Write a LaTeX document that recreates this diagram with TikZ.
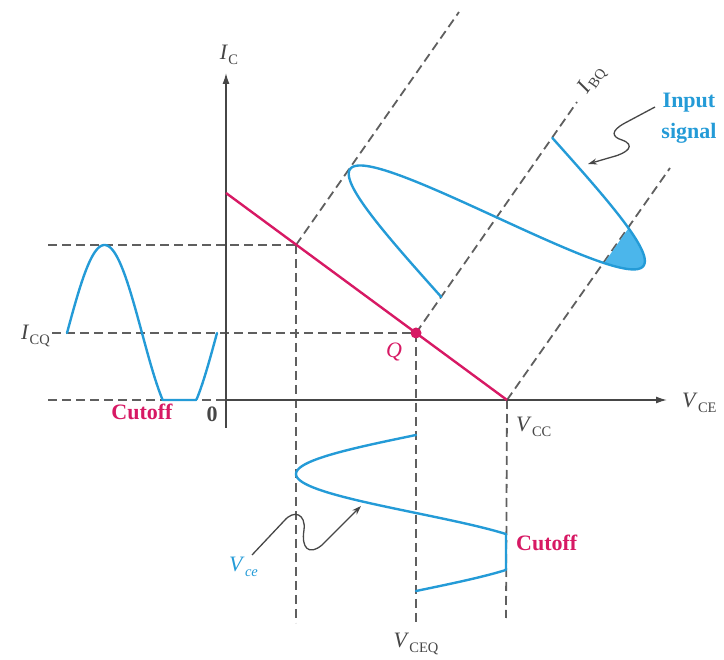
\documentclass[tikz,border=0pt]{standalone}
\usepackage{fontspec}
\setmainfont{Liberation Serif}
\usetikzlibrary{arrows.meta}
\definecolor{sigblue}{RGB}{36,155,215}
\definecolor{fillblue}{RGB}{75,182,235}
\definecolor{magn}{RGB}{215,25,100}
\definecolor{axgray}{RGB}{70,70,70}
\definecolor{dashgray}{RGB}{95,95,95}
\newcommand\lab[2]{\textit{#1}\kern0.3pt\raisebox{-0.4ex}{\fontsize{14.5}{14.5}\selectfont #2}}
\begin{document}
\begin{tikzpicture}[x=1pt,y=-1pt,
  declare function={sv(\u)=-148*sin((\u-44)*1.85567);
                    px(\u)=416+0.573*\u+0.8038*sv(\u);
                    py(\u)=333-0.8195*\u+0.595*sv(\u);},
  dashln/.style={dashgray,line width=1.8pt,dash pattern=on 9pt off 5pt},
  axisln/.style={axgray,line width=1.4pt},
  loadln/.style={magn,line width=2.4pt},
  sig/.style={sigblue,line width=2.4pt,line join=round,line cap=round},
  pointer/.style={axgray,line width=1.3pt,-{Stealth[length=9pt,width=6pt]}},
  lbl/.style={font=\fontsize{22}{24}\selectfont,text=axgray,inner sep=0pt},
  bluetxt/.style={font=\fontsize{22}{31}\selectfont\bfseries,text=sigblue,inner sep=0pt,align=center},
  redtxt/.style={font=\fontsize{22}{24}\selectfont\bfseries,text=magn,inner sep=0pt}]
\useasboundingbox (0,0) rectangle (724,660);
% key points
\coordinate (O) at (226,400);
\coordinate (ytop) at (226,73);
\coordinate (ybot) at (226,428);
\coordinate (xend) at (667,400);
\coordinate (Lt) at (226,193);
\coordinate (VCC) at (507,400);
\coordinate (Q) at (416,333);
\coordinate (P1) at (296,245);
% horizontal dashed lines
\coordinate (h1) at (48,245);
\coordinate (h2) at (52,333);
\coordinate (h3) at (48,400);
\draw[dashln] (h1) -- (P1);
\draw[dashln] (h2) -- (Q);
\draw[dashln] (h3) -- (O);
% vertical dashed lines
\coordinate (v1) at (296,623);
\coordinate (v2) at (416,625);
\coordinate (v3) at (506,618);
\draw[dashln] (P1) -- (v1);
\draw[dashln] (Q) -- (v2);
\draw[dashln] (VCC) -- (v3);
% diagonal dashed lines
\coordinate (d1) at (459,12);
\coordinate (d2) at (577,102);
\coordinate (d3) at (670,168);
\draw[dashln] (P1) -- (d1);
\draw[dashln] (Q) -- (d2);
\draw[dashln] (VCC) -- (d3);
% axes
\draw[axisln,-{Latex[length=11pt,width=7pt]}] (ybot) -- (ytop);
\draw[axisln,-{Latex[length=11pt,width=7pt]}] (O) -- (xend);
% load line
\draw[loadln] (Lt) -- (VCC);
% input signal
\fill[fillblue] plot[domain=168.2:210.8,samples=60,variable=\u] ({px(\u)},{py(\u)}) -- cycle;
\draw[sig] plot[domain=44:238,samples=160,variable=\u] ({px(\u)},{py(\u)});
% left collector current
\draw[sig] plot[domain=67:217,samples=150,variable=\x] (\x,{min(400,333-88*sin((\x-67)*2.4))});
% bottom vce
\draw[sig] plot[domain=0:360,samples=160,variable=\t] ({min(506,416-120*sin(\t))},{435+\t*0.43333});
% Q point
\node[circle,fill=magn,minimum size=11pt,inner sep=0pt] (Qdot) at (Q) {};
% labels
\node[lbl,anchor=base] (lIC) at (229,60) {\lab{I}{C}};
\node[lbl,anchor=base west] (lVCE) at (682,408) {\lab{V}{CE}};
\node[lbl,anchor=base west] (lVCC) at (516,432) {\lab{V}{CC}};
\node[lbl,anchor=base] (lVCEQ) at (416,648) {\lab{V}{CEQ}};
\node[lbl,anchor=base east] (lICQ) at (50,340) {\lab{I}{CQ}};
\node[lbl,font=\fontsize{22}{24}\selectfont\bfseries] (l0) at (212,414) {0};
\node[lbl,text=magn,anchor=base] (lQ) at (394,358) {\textit{Q}};
\node[lbl,rotate=55] (lIBQ) at (592,80) {\textit{I}\kern0.5pt\raisebox{-0.4ex}{\fontsize{14.5}{14.5}\selectfont BQ}};
\node[redtxt] (cut1) at (142,412) {Cutoff};
\node[redtxt,anchor=west] (cut2) at (516,543) {Cutoff};
\node[bluetxt] (inp) at (689,118) {Input\\signal};
\node[lbl,text=sigblue,anchor=base west] (lVce) at (229,572) {\lab{V}{\itshape ce}};
% pointer squiggles
\coordinate (a1s) at (655,107);
\coordinate (a1e) at (588,164);
\draw[pointer] (a1s) -- (625,123) .. controls (610,131) and (612,137) .. (622,140)
  .. controls (636,145) and (628,153) .. (612,157) -- (a1e);
\coordinate (a2s) at (252,555);
\coordinate (a2e) at (361,506);
\draw[pointer] (a2s) -- (284,521) .. controls (294,509) and (306,514) .. (304,530)
  .. controls (301,548) and (309,556) .. (322,545) -- (a2e);
\end{tikzpicture}
\end{document}
